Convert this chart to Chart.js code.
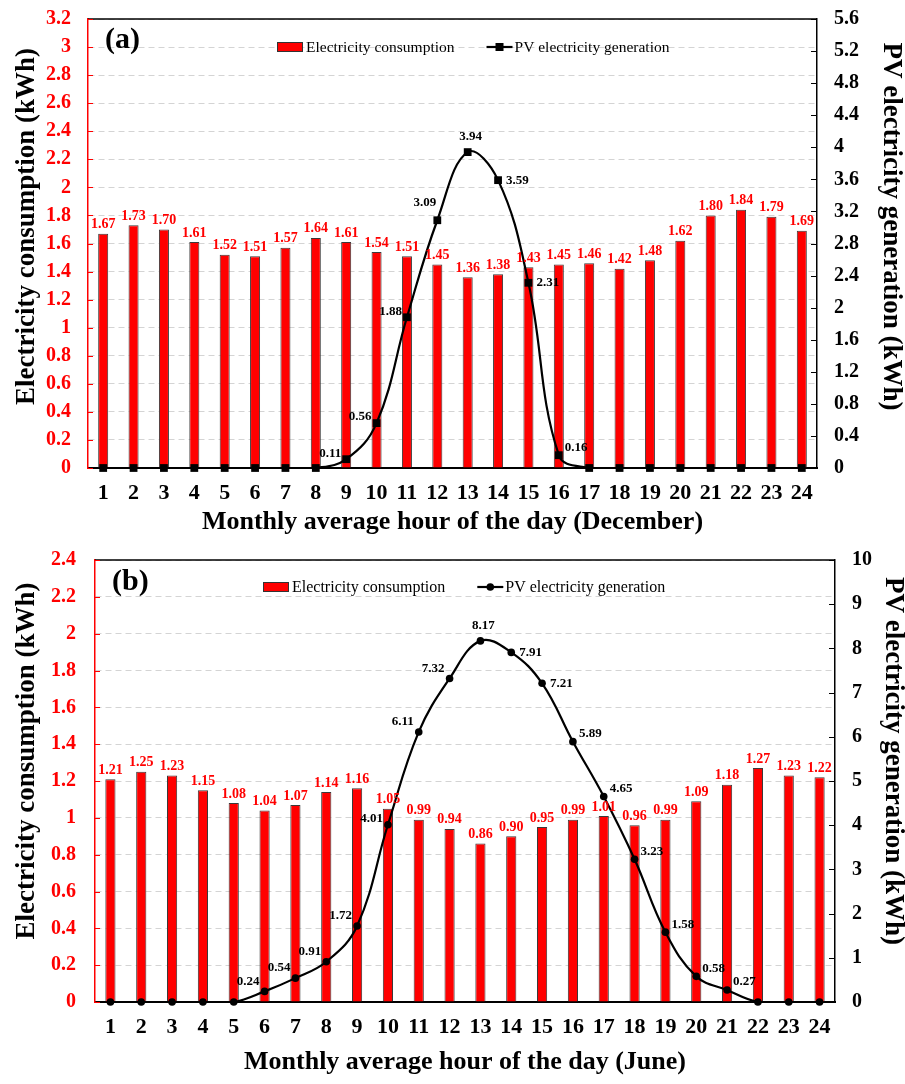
<!DOCTYPE html>
<html>
<head>
<meta charset="utf-8">
<script src="https://cdn.jsdelivr.net/npm/chart.js@4.4.1/dist/chart.umd.min.js"></script>
<style>
  html, body { margin: 0; padding: 0; background: #fff; }
  canvas { display: block; }
</style>
</head>
<body>
<canvas id="chartDec" width="905" height="540"></canvas>
<canvas id="chartJun" width="905" height="544"></canvas>
<script>
  // hours of the day
  const hours = ['1','2','3','4','5','6','7','8','9','10','11','12','13','14','15','16','17','18','19','20','21','22','23','24'];

  // December (a)
  const decConsumption = [1.67, 1.73, 1.70, 1.61, 1.52, 1.51, 1.57, 1.64, 1.61, 1.54, 1.51, 1.45, 1.36, 1.38, 1.43, 1.45, 1.46, 1.42, 1.48, 1.62, 1.80, 1.84, 1.79, 1.69];
  const decPV = [0, 0, 0, 0, 0, 0, 0, 0, 0.11, 0.56, 1.88, 3.09, 3.94, 3.59, 2.31, 0.16, 0, 0, 0, 0, 0, 0, 0, 0];
  const decLeftTicks = [0, 0.2, 0.4, 0.6, 0.8, 1, 1.2, 1.4, 1.6, 1.8, 2, 2.2, 2.4, 2.6, 2.8, 3, 3.2];
  const decRightTicks = [0, 0.4, 0.8, 1.2, 1.6, 2, 2.4, 2.8, 3.2, 3.6, 4, 4.4, 4.8, 5.2, 5.6];

  // June (b)
  const junConsumption = [1.21, 1.25, 1.23, 1.15, 1.08, 1.04, 1.07, 1.14, 1.16, 1.05, 0.99, 0.94, 0.86, 0.90, 0.95, 0.99, 1.01, 0.96, 0.99, 1.09, 1.18, 1.27, 1.23, 1.22];
  const junPV = [0, 0, 0, 0, 0, 0.24, 0.54, 0.91, 1.72, 4.01, 6.11, 7.32, 8.17, 7.91, 7.21, 5.89, 4.65, 3.23, 1.58, 0.58, 0.27, 0, 0, 0];
  const junLeftTicks = [0, 0.2, 0.4, 0.6, 0.8, 1, 1.2, 1.4, 1.6, 1.8, 2, 2.2, 2.4];
  const junRightTicks = [0, 1, 2, 3, 4, 5, 6, 7, 8, 9, 10];

  const leftTitle = 'Electricity consumption (kWh)';
  const rightTitle = 'PV electricity generation (kWh)';

  // where each PV value label sits next to its point (by hour)
  const decPVLabelPos = {9: 'left', 10: 'left', 11: 'left', 12: 'upleft', 13: 'above', 14: 'right', 15: 'right', 16: 'rightup'};
  const junPVLabelPos = {6: 'leftup', 7: 'leftup', 8: 'leftup', 9: 'leftup', 10: 'left', 11: 'leftup', 12: 'leftup', 13: 'above',
                         14: 'right', 15: 'right', 16: 'rightup', 17: 'rightup', 18: 'rightup', 19: 'rightup', 20: 'rightup', 21: 'rightup'};

  const labelOffsets = {
    left:    {dx: -5, dy: -6,  align: 'right'},
    leftup:  {dx: -5, dy: -10, align: 'right'},
    upleft:  {dx: -1, dy: -18, align: 'right'},
    above:   {dx: 3,  dy: -15, align: 'center'},
    right:   {dx: 8,  dy: 0,   align: 'left'},
    rightup: {dx: 6,  dy: -8,  align: 'left'}
  };

  const serif = '"Liberation Serif", "Times New Roman", serif';
  const RED = '#ff0000';

  function fmt(v) {
    return String(+v.toFixed(1));
  }

  //Labels, borders, inward ticks, axis titles, legend and panel letter
  const decorPlugin = {
    id: 'decor',
    afterDatasetsDraw(chart, args, opts) {
      const ctx = chart.ctx;
      const area = chart.chartArea;
      const y = chart.scales.y, y1 = chart.scales.y1;

      ctx.save();
      // top border
      ctx.strokeStyle = '#000';
      ctx.lineWidth = 1.5;
      ctx.beginPath();
      ctx.moveTo(area.left, area.top);
      ctx.lineTo(area.right, area.top);
      ctx.stroke();

      // inward tick marks
      ctx.lineWidth = 1;
      ctx.strokeStyle = RED;
      y.ticks.forEach(function(t) {
        const py = Math.round(y.getPixelForValue(t.value)) + 0.5;
        ctx.beginPath(); ctx.moveTo(area.left, py); ctx.lineTo(area.left + 5, py); ctx.stroke();
      });
      ctx.strokeStyle = '#000';
      y1.ticks.forEach(function(t) {
        const py = Math.round(y1.getPixelForValue(t.value)) + 0.5;
        ctx.beginPath(); ctx.moveTo(area.right - 6, py); ctx.lineTo(area.right, py); ctx.stroke();
      });

      // bar value labels
      const barMeta = chart.getDatasetMeta(0);
      const barData = chart.data.datasets[0].data;
      ctx.font = 'bold 14px ' + serif;
      ctx.fillStyle = RED;
      ctx.textAlign = 'center';
      ctx.textBaseline = 'bottom';
      barMeta.data.forEach(function(bar, i) {
        ctx.fillText(barData[i].toFixed(2), bar.x, bar.y - 2);
      });

      // PV value labels
      const lineMeta = chart.getDatasetMeta(1);
      const lineData = chart.data.datasets[1].data;
      ctx.font = 'bold 13px ' + serif;
      ctx.fillStyle = '#000';
      ctx.textBaseline = 'middle';
      lineMeta.data.forEach(function(pt, i) {
        const pos = opts.labelPos[i + 1];
        if (!pos || lineData[i] <= 0) return;
        const o = labelOffsets[pos];
        ctx.textAlign = o.align;
        ctx.fillText(lineData[i].toFixed(2), pt.x + o.dx, pt.y + o.dy);
      });

      // y axis titles (sit a little above the axis middle)
      const cy = (area.top + area.bottom) / 2 + opts.titleShift;
      ctx.font = 'bold 27px ' + serif;
      ctx.textAlign = 'center';
      ctx.textBaseline = 'middle';
      ctx.save();
      ctx.translate(opts.leftTitleX, cy);
      ctx.rotate(-Math.PI / 2);
      ctx.fillText(leftTitle, 0, 0);
      ctx.restore();
      ctx.save();
      ctx.translate(opts.rightTitleX, cy);
      ctx.rotate(Math.PI / 2);
      ctx.fillText(rightTitle, 0, 0);
      ctx.restore();

      // legend
      const ly = area.top + opts.legendDy;
      let lx = opts.legendX;
      ctx.font = opts.legendSize + 'px ' + serif;
      ctx.textAlign = 'left';
      ctx.textBaseline = 'middle';
      ctx.fillStyle = RED;
      ctx.fillRect(lx, ly - 4.5, 26, 9);
      ctx.strokeStyle = '#333';
      ctx.lineWidth = 1;
      ctx.strokeRect(lx + 0.5, ly - 4.5, 25, 9);
      ctx.fillStyle = '#000';
      const t1 = chart.data.datasets[0].label;
      ctx.fillText(t1, lx + 29, ly + 1);
      lx = lx + 29 + ctx.measureText(t1).width + opts.legendGap;
      ctx.strokeStyle = '#000';
      ctx.lineWidth = 2.2;
      ctx.beginPath(); ctx.moveTo(lx, ly); ctx.lineTo(lx + 26, ly); ctx.stroke();
      if (opts.marker === 'rect') {
        ctx.fillRect(lx + 9, ly - 4, 8, 8);
      } else {
        ctx.beginPath(); ctx.arc(lx + 13, ly, 3.8, 0, Math.PI * 2); ctx.fill();
      }
      ctx.fillText(chart.data.datasets[1].label, lx + 28, ly + 1);

      // panel letter
      ctx.font = 'bold 30px ' + serif;
      ctx.fillText(opts.letter, area.left + opts.letterDx, area.top + opts.letterDy);
      ctx.restore();
    }
  };

  function buildPanel(canvasId, p) {
    const tickFont = {family: serif, size: 20, weight: 'bold'};
    return new Chart(document.getElementById(canvasId), {
      type: 'bar',
      data: {
        labels: hours,
        datasets: [
          {
            type: 'bar',
            label: 'Electricity consumption',
            data: p.consumption,
            yAxisID: 'y',
            backgroundColor: RED,
            borderColor: '#3a3a3a',
            borderWidth: 1,
            barPercentage: 0.33,
            categoryPercentage: 1,
            order: 2
          },
          {
            type: 'line',
            label: 'PV electricity generation',
            data: p.pv,
            yAxisID: 'y1',
            borderColor: '#000',
            backgroundColor: '#000',
            borderWidth: 2.2,
            tension: 0.4,
            pointStyle: p.marker,
            pointRadius: p.markerRadius,
            pointBackgroundColor: '#000',
            pointBorderColor: '#000',
            pointBorderWidth: 0,
            clip: false,
            order: 1
          }
        ]
      },
      options: {
        responsive: false,
        animation: false,
        devicePixelRatio: 1,
        layout: {padding: {top: p.padTop, left: 0, right: 0, bottom: 0}},
        plugins: {
          legend: {display: false},
          tooltip: {enabled: false},
          decor: {
            labelPos: p.labelPos,
            legendX: p.legendX,
            legendDy: p.legendDy,
            legendGap: 32,
            legendSize: p.legendSize,
            marker: p.marker,
            letter: p.letter,
            letterDx: 17,
            letterDy: p.letterDy,
            titleShift: p.titleShift,
            leftTitleX: 27,
            rightTitleX: p.rightTitleX
          }
        },
        scales: {
          x: {
            grid: {display: false, drawTicks: false},
            border: {color: '#000', width: 2},
            ticks: {color: '#000', font: {family: serif, size: 22, weight: 'bold'}, padding: p.xTickPad, maxRotation: 0, autoSkip: false},
            title: {
              display: true,
              text: p.xTitle,
              color: '#000',
              font: {family: serif, size: 26, weight: 'bold', lineHeight: 1},
              padding: {top: 0, bottom: p.xTitlePad}
            },
            afterFit: function(s) { s.height = p.xAxisHeight; s.paddingLeft = 0; s.paddingRight = 0; }
          },
          y: {
            position: 'left',
            min: 0,
            max: p.leftTicks[p.leftTicks.length - 1],
            afterBuildTicks: function(s) { s.ticks = p.leftTicks.map(function(v) { return {value: v}; }); },
            grid: {color: '#d4d4d4', lineWidth: 1, drawTicks: false},
            border: {color: RED, width: 1.5, dash: [6, 4]},
            ticks: {color: RED, font: tickFont, padding: p.leftPad, callback: fmt},
            afterFit: function(s) { s.width = p.leftWidth; s.paddingTop = 0; s.paddingBottom = 0; }
          },
          y1: {
            position: 'right',
            min: 0,
            max: p.rightTicks[p.rightTicks.length - 1],
            afterBuildTicks: function(s) { s.ticks = p.rightTicks.map(function(v) { return {value: v}; }); },
            grid: {drawOnChartArea: false, drawTicks: false},
            border: {color: '#000', width: 1.5},
            ticks: {color: '#000', font: tickFont, padding: 17, callback: fmt},
            afterFit: function(s) { s.width = p.rightWidth; s.paddingTop = 0; s.paddingBottom = 0; }
          }
        }
      },
      plugins: [decorPlugin]
    });
  }

  buildPanel('chartDec', {
    consumption: decConsumption,
    pv: decPV,
    leftTicks: decLeftTicks,
    rightTicks: decRightTicks,
    labelPos: decPVLabelPos,
    marker: 'rect',
    markerRadius: 5.5,
    xTitle: 'Monthly average hour of the day (December)',
    letter: '(a)',
    letterDy: 21,
    padTop: 19,
    leftWidth: 88,
    rightWidth: 88,
    leftPad: 17,
    xAxisHeight: 72,
    xTickPad: 12,
    xTitlePad: 5,
    legendX: 277,
    legendDy: 28,
    legendSize: 15.5,
    titleShift: -17,
    rightTitleX: 891
  });

  buildPanel('chartJun', {
    consumption: junConsumption,
    pv: junPV,
    leftTicks: junLeftTicks,
    rightTicks: junRightTicks,
    labelPos: junPVLabelPos,
    marker: 'circle',
    markerRadius: 3.8,
    xTitle: 'Monthly average hour of the day (June)',
    letter: '(b)',
    letterDy: 22,
    padTop: 20,
    leftWidth: 95,
    rightWidth: 70,
    leftPad: 19,
    xAxisHeight: 82,
    xTickPad: 12,
    xTitlePad: 9,
    legendX: 263,
    legendDy: 27,
    legendSize: 16,
    titleShift: -20,
    rightTitleX: 893
  });
</script>
</body>
</html>
